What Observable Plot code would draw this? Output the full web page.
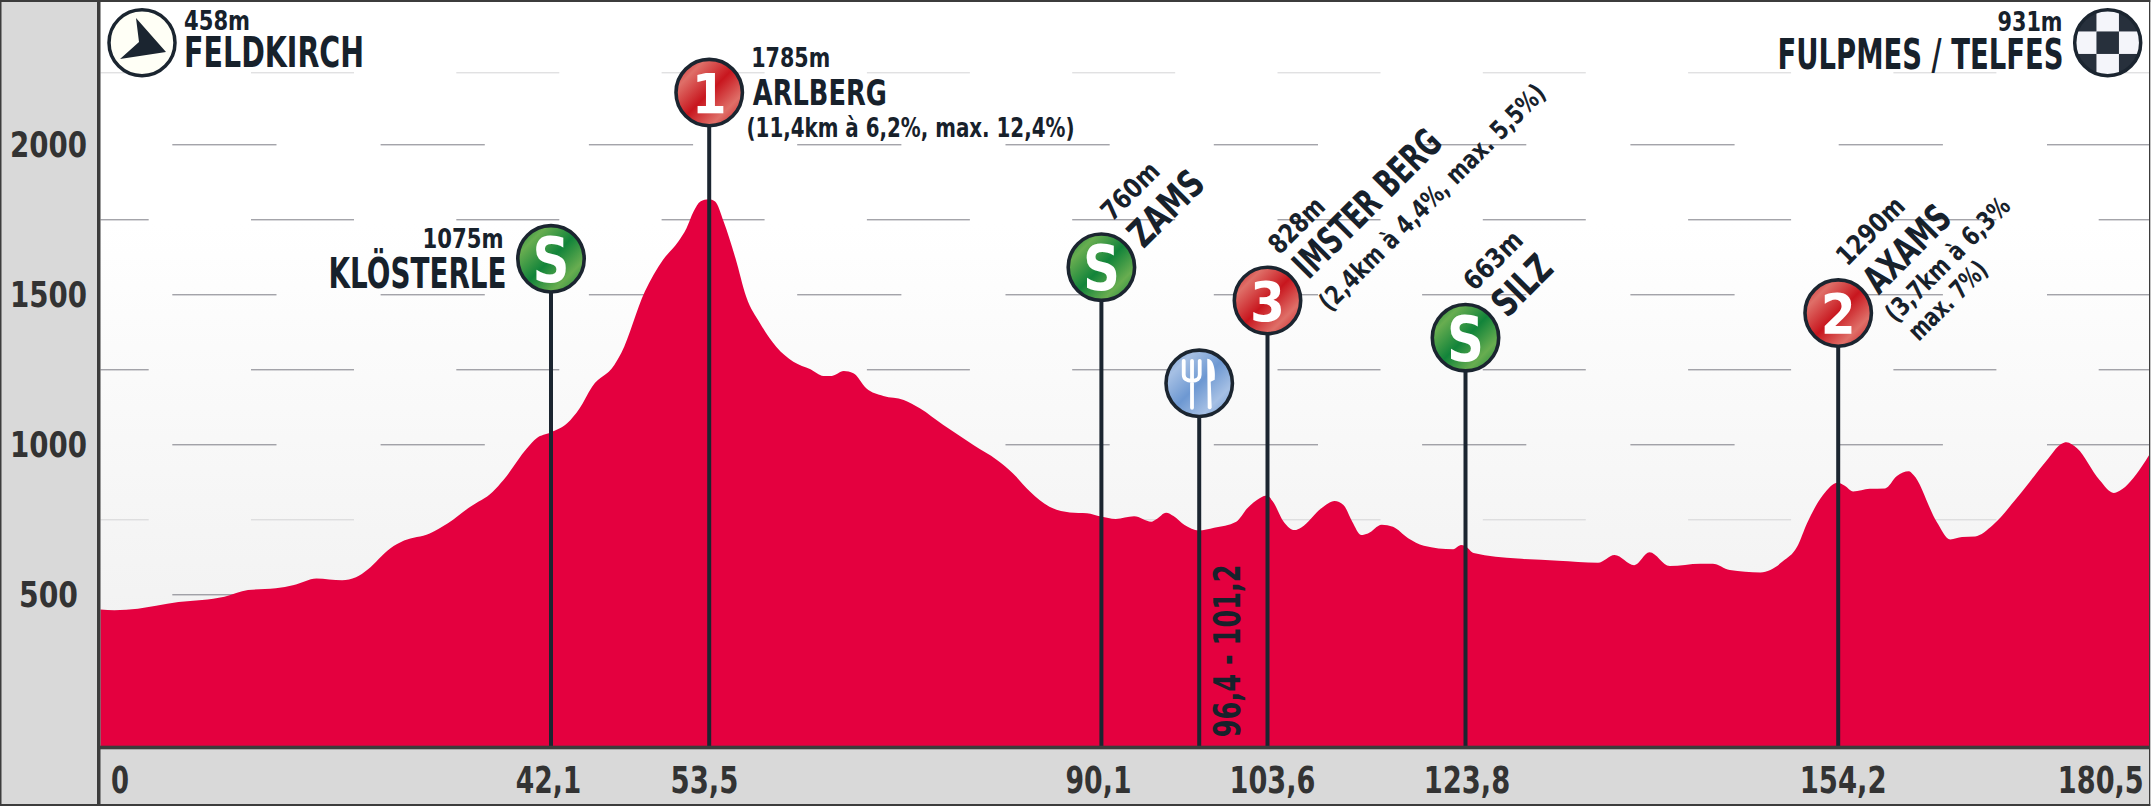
<!DOCTYPE html>
<html><head><meta charset="utf-8">
<script src="https://cdn.jsdelivr.net/npm/d3@7"></script>
<script src="https://cdn.jsdelivr.net/npm/@observablehq/plot@0.6"></script>
<style>html,body{margin:0;padding:0;background:#fff;overflow:hidden}svg{display:block}</style>
</head><body><div id="c"></div>
<script>
// Profile
const profileKm = [0,1.3,3.5,5.2,7.3,9.5,11.6,13.8,16.4,18.1,20.2,22.6,23.9,25,27.1,28.4,30.8,32.5,34.6,36.7,37.7,39.9,40.8,42.1,
43.3,44.2,45.1,46.7,47.2,48.9,50.2,51.3,51.9,52.4,52.9,53.5,
54.1,54.9,56,57,58.3,59.8,61.4,63,64.2,65,66.1,67,68.2,69.8,71.7,73.2,75.4,78.2,80.4,81.9,83.5,85.3,87.2,88.8,90.1,
91.3,92.8,94.2,94.6,95.4,96,96.9,98.05,99.3,101.1,102,103,103.6,
104.2,105.3,106.4,107.1,109.15,110.5,111.4,112.3,113.2,113.9,115.3,116.45,118,119.6,122.6,123.4,123.8,
124.5,128.1,131.4,134.65,136,137.6,138.85,140.5,143,144,145.4,147.9,148.7,149.7,150.9,151.7,153,154.2,
154.8,155.5,156.9,158.2,159.2,160.2,160.6,162.55,163.7,164.7,165.8,167.3,169.3,171.8,173.1,173.5,174.4,176.3,177.5,178,179.85,180.5];
const profileElevation = [449,447,452,462,474,481,492,514,520,531,553,547,557,583,653,679,703,737,792,842,881,987,1020,1039,
1070,1120,1192,1264,1304,1509,1614,1675,1720,1775,1809,1817,
1809,1742,1620,1492,1403,1325,1275,1250,1228,1228,1244,1237,1187,1161,1148,1120,1064,998,948,903,842,792,773,770,759,
751,760,742,750,772,761,731,713,722,742,787,820,829,
809,742,714,723,787,811,798,742,698,703,732,725,687,662,650,664,661,
638,619,612,605,631,597,640,594,602,602,581,573,581,609,659,737,831,872,
862,843,852,853,894,910,898,742,683,691,693,731,820,944,1002,1007,987,881,838,845,925,965];

// Distance ticks printed on the axis (the printed scale is not uniform on the page)
const tickKm = [0,42.1,53.5,90.1,103.6,123.8,154.2,180.5];
const tickText = ["0","42,1","53,5","90,1","103,6","123,8","154,2","180,5"];
const altitudeTicks = [500,1000,1500,2000];
const darkGrid = [2000,1750,1500,1250,1000,500];
const lightGrid = [2240,750];

// Waypoints
const poleKm = [42.1,53.5,90.1,98.05,103.6,123.8,154.2];
const poleTop = [1620,2174,1592,1205,1481,1357,1439];
const poleKind = ["sprint","climb","sprint","feed","climb","sprint","climb"];
const poleGlyph = ["S","1","S","","3","S","2"];
const poles = poleKm.map((km,i)=>({km,top:poleTop[i],kind:poleKind[i],glyph:poleGlyph[i]}));

const INK="#17212b", POLE="#1b2530", TICK="#333333", FRAME="#3c3c3c", BAND="#d9d9d9", RED="#e4003f";
const FONT='"DejaVu Sans",sans-serif';

function fit(w){return function(i,s,v,d,c,next){const g=next(i,s,v,d,c);g.querySelectorAll("text").forEach(t=>{t.setAttribute("textLength",w);t.setAttribute("lengthAdjust","spacingAndGlyphs");});return g;};}
function svgEl(name,attrs,parent){const e=document.createElementNS("http://www.w3.org/2000/svg",name);for(const k in attrs)e.setAttribute(k,attrs[k]);if(parent)parent.appendChild(e);return e;}

function defs(){
  const d=svgEl("defs",{});
  const grad=(id,dark,light)=>{const g=svgEl("linearGradient",{id,x1:0,y1:0,x2:1,y2:1},d);
    [[0,dark],[.22,light],[.5,dark],[.76,light],[1,dark]].forEach(([o,c])=>svgEl("stop",{offset:o,"stop-color":c},g));};
  grad("gGreen","#12843a","#68ad50");grad("gRed","#c8161e","#df6f68");grad("gBlue","#6d98d2","#a6c0e4");
  const b=svgEl("linearGradient",{id:"gBack",x1:0,y1:0,x2:0,y2:1},d);
  [[0,"#ffffff"],[.3,"#ffffff"],[1,"#eeeeee"]].forEach(([o,c])=>svgEl("stop",{offset:o,"stop-color":c},b));
  const cp=svgEl("clipPath",{id:"checkClip"},d);svgEl("circle",{r:33},cp);
  return d;
}
function chrome(){
  const g=svgEl("g",{});
  svgEl("rect",{x:0,y:0,width:97,height:806,fill:BAND},g);
  svgEl("rect",{x:100,y:749,width:2050,height:56,fill:BAND},g);
  svgEl("rect",{x:100,y:0,width:2050,height:746,fill:"url(#gBack)"},g);
  return g;
}
function chromeLines(){
  const g=svgEl("g",{fill:FRAME});
  [[0,0,2150.3,2],[0,0,1.5,806],[97,0,3.5,806],[100,745.7,2050,3.6],[0,804,2150.3,2],[2149,0,1.3,806]]
   .forEach(([x,y,width,height])=>svgEl("rect",{x,y,width,height},g));
  return g;
}
function feedIcon(i,s){
  const g=svgEl("g",{transform:`translate(${s.x(poleKm[3])},${s.y(poleTop[3])})`});
  svgEl("path",{d:"M-15,-22V-8Q-15,-2-6.7,-2Q1,-2 1,-8V-22M-6.7,-22V25",fill:"none",stroke:"#fff","stroke-width":3.8,"stroke-linecap":"round"},g);
  svgEl("path",{d:"M8.5,-24C15,-24 17,-12 16,-3L12,-1L13,25Q11,28 9,25Z",fill:"#fff"},g);
  return g;
}
function startIcon(i,s){
  const g=svgEl("g",{transform:`translate(${s.x(0)+41.5},42.7)`});
  svgEl("circle",{r:33,fill:"#fffff6",stroke:POLE,"stroke-width":3.5},g);
  svgEl("path",{d:"M-6,-24.7L24,9.3L-22,16.3L-3,-0.7Z",fill:POLE},g);
  return g;
}
function finishIcon(i,s){
  const g=svgEl("g",{transform:`translate(${s.x(180.5)-41.6},42.7)`});
  svgEl("circle",{r:33,fill:"#f4f5fa"},g);
  const c=svgEl("g",{"clip-path":"url(#checkClip)"},g);
  [[-1,-1],[1,-1],[0,0],[-1,1],[1,1]].forEach(([a,b])=>svgEl("rect",{x:a*22.5-11.25,y:b*22.5-11.25,width:22.5,height:22.5,fill:"#27303c"},c));
  svgEl("circle",{r:33,fill:"none",stroke:POLE,"stroke-width":3.5},g);
  return g;
}

const labelMark=(text,size,width,opts)=>Plot.text([text],{text:d=>d,fill:INK,fontFamily:FONT,fontWeight:700,fontSize:size,lineAnchor:"bottom",render:fit(width),...opts});
const corner=(text,size,width,x,y,anchor="start")=>labelMark(text,size,width,{frameAnchor:"top-left",dx:x,dy:y,textAnchor:anchor});
const atPole=(idx,text,size,width,dx,dy,rotate=0,anchor="start")=>labelMark(text,size,width,{x:()=>poleKm[idx],y:()=>poleTop[idx],dx,dy,rotate,textAnchor:anchor});

const tickDx=[19,-2.5,-4.7,-2.9,5,1.5,5,-49];
const tickW=[18,65.6,68,66,86,86.6,87,86];

const chart=Plot.plot({
  width:2152,height:807,margin:0,
  style:{background:"#fff"},
  x:{type:"linear",domain:tickKm,range:[100.5,550.5,708.7,1100.9,1267,1465,1837.7,2149.3],axis:null},
  y:{domain:[0,2000],range:[744.3,144.3],axis:null},
  marks:[
    defs,chrome,
    Plot.ruleY(darkGrid.filter(v=>v%500===0),{x1:0,x2:180.5,stroke:"#7e7e86",strokeWidth:1,strokeDasharray:"104.2,104.1",strokeDashoffset:136.5}),
    Plot.ruleY(darkGrid.filter(v=>v%500!==0),{x1:0,x2:180.5,stroke:"#7e7e86",strokeWidth:1,strokeDasharray:"103,102.3",strokeDashoffset:54.8}),
    Plot.ruleY(lightGrid,{x1:0,x2:180.5,stroke:"#d4d4d6",strokeWidth:1,strokeDasharray:"103,102.3",strokeDashoffset:54.8}),
    Plot.area(profileKm,{x1:d=>d,y1:()=>-8,y2:(d,i)=>profileElevation[i],fill:RED,curve:"monotone-x"}),
    Plot.ruleX(poles,{x:"km",y1:-8,y2:"top",stroke:POLE,strokeWidth:4}),
    chromeLines,
    Plot.dot(poles.filter(d=>d.kind==="sprint"),{x:"km",y:"top",r:33.2,fill:"url(#gGreen)",stroke:POLE,strokeWidth:3.6}),
    Plot.dot(poles.filter(d=>d.kind==="climb"),{x:"km",y:"top",r:33.2,fill:"url(#gRed)",stroke:POLE,strokeWidth:3.6}),
    Plot.dot(poles.filter(d=>d.kind==="feed"),{x:"km",y:"top",r:33.2,fill:"url(#gBlue)",stroke:POLE,strokeWidth:3.6}),
    Plot.text(poles.filter(d=>d.glyph==="S"),{x:"km",y:"top",text:"glyph",fill:"#fff",fontFamily:FONT,fontWeight:700,fontSize:62,lineAnchor:"bottom",dy:23,render:fit(37)}),
    Plot.text(poles.filter(d=>d.kind==="climb"),{x:"km",y:"top",text:"glyph",fill:"#fff",fontFamily:FONT,fontWeight:700,fontSize:55,lineAnchor:"bottom",dy:20,render:fit(35)}),
    feedIcon,startIcon,finishIcon,

    // axis labels
    ...altitudeTicks.map(v=>Plot.text([v],{y:d=>d,text:d=>String(d),frameAnchor:"left",textAnchor:"middle",dx:48,dy:12.4,lineAnchor:"bottom",fill:TICK,fontFamily:FONT,fontWeight:700,fontSize:36,render:fit(v<1000?59:77)})),
    ...tickKm.map((km,i)=>Plot.text([km],{x:d=>d,y:()=>0,text:()=>tickText[i],dx:tickDx[i],dy:48.4,lineAnchor:"bottom",fill:TICK,fontFamily:FONT,fontWeight:700,fontSize:37,render:fit(tickW[i])})),

    // start and finish
    corner("458m",27,66,183.6,29.5),
    corner("FELDKIRCH",42,180,183.6,66.5),
    corner("931m",27,65,2062,30,"end"),
    corner("FULPMES / TELFES",43,286,2063,68.5,"end"),

    // waypoint labels
    atPole(0,"1075m",27,81,-47.5,-10.3,0,"end"),
    atPole(0,"KLÖSTERLE",42,178,-44.5,28.7,0,"end"),
    atPole(1,"1785m",27,79,42,-25.3),
    atPole(1,"ARLBERG",36,134,43.6,12.3),
    atPole(1,"(11,4km à 6,2%, max. 12,4%)",26,328,37.3,44.7),
    atPole(2,"760m",27,70,10.7,-45,-45),
    atPole(2,"ZAMS",38,90,42,-17.7,-45),
    atPole(3,"96,4 - 101,2",38,173,41,354,-90),
    atPole(4,"828m",27,67,12,-45,-45),
    atPole(4,"IMSTER BERG",38,192,41,-20,-45),
    atPole(4,"(2,4km à 4,4%, max. 5,5%)",26,308,62,12,-45),
    atPole(5,"663m",27,71,9,-45.6,-45),
    atPole(5,"SILZ",38,68,41.7,-19,-45),
    atPole(6,"1290m",27,84,9,-46,-45),
    atPole(6,"AXAMS",38,106,40.6,-17.7,-45),
    atPole(6,"(3,7km à 6,3%",26,164,57.6,10.6,-45),
    atPole(6,"max. 7%)",26,100,80.6,29,-45)
  ]
});
document.getElementById("c").appendChild(chart);
</script></body></html>
